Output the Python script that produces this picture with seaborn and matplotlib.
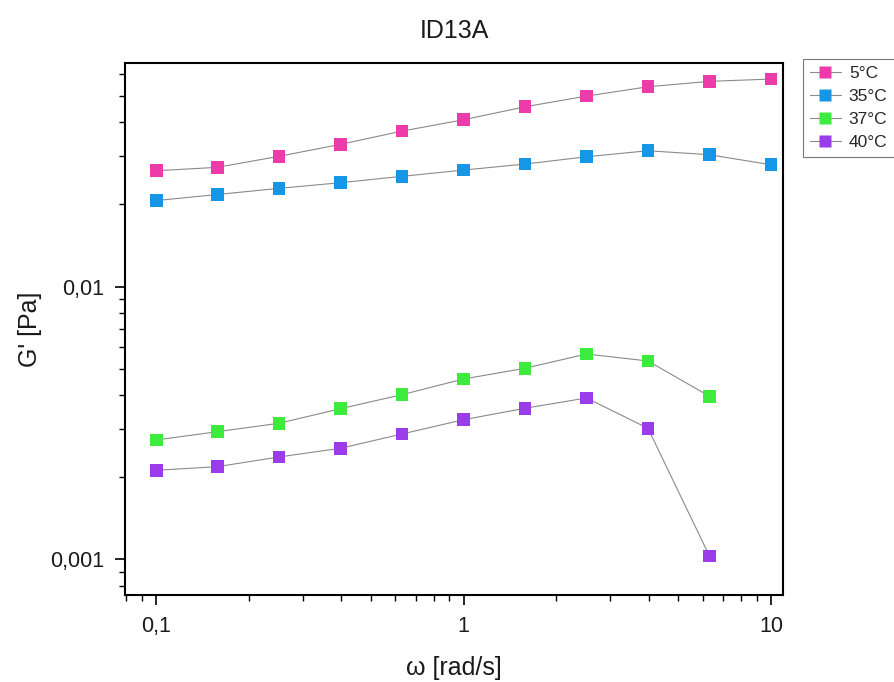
import numpy as np
import pandas as pd
import matplotlib
matplotlib.use("Agg")
import matplotlib.pyplot as plt
from matplotlib.lines import Line2D
from matplotlib.ticker import FuncFormatter, LogLocator, NullFormatter
import seaborn as sns

# ---- data ----
omega = [0.1, 0.158, 0.251, 0.398, 0.631, 1.0, 1.585, 2.512, 3.981, 6.31, 10.0]
g_5C = [0.02656, 0.02733, 0.02999, 0.03318, 0.03711, 0.04083, 0.04556, 0.04986, 0.05393, 0.05645, 0.05756]
g_35C = [0.02065, 0.02173, 0.02289, 0.02401, 0.02533, 0.02671, 0.02810, 0.02988, 0.03144, 0.03040, 0.02794]
g_37C = [0.002740, 0.002938, 0.003154, 0.003568, 0.004016, 0.004583, 0.005017, 0.005658, 0.005336, 0.003962]
g_40C = [0.002122, 0.002187, 0.002374, 0.002555, 0.002882, 0.003251, 0.003580, 0.003905, 0.003024, 0.001030]
labels = ["5°C", "35°C", "37°C", "40°C"]
colors = ["#EE3BAA", "#1696E6", "#3CEB3C", "#9B3CEB"]
title = "ID13A"
xlabel = "ω [rad/s]"
ylabel = "G' [Pa]"

series = [g_5C, g_35C, g_37C, g_40C]
frames = []
for lab, vals in zip(labels, series):
    frames.append(pd.DataFrame({"omega": omega[:len(vals)], "G": vals, "T": lab}))
df = pd.concat(frames, ignore_index=True)

sns.set_style("ticks")
plt.rcParams["font.family"] = ["Liberation Sans", "DejaVu Sans"]

fig = plt.figure(figsize=(8.94, 6.82), dpi=100)
ax = fig.add_axes([0.140, 0.1276, 0.736, 0.780])

for lab in labels:
    sub = df[df["T"] == lab]
    sns.lineplot(data=sub, x="omega", y="G", color="#8a8a8a", lw=0.8, ax=ax,
                 legend=False, sort=False)
sns.scatterplot(data=df, x="omega", y="G", hue="T", palette=dict(zip(labels, colors)),
                marker="s", s=85, edgecolor="none", ax=ax, legend=False, zorder=3)

ax.set_xscale("log")
ax.set_yscale("log")
ax.set_xlim(0.0793, 10.96)
ax.set_ylim(0.000741, 0.0659)

def fmt(v, pos):
    return ("%g" % v).replace(".", ",")

ax.xaxis.set_major_locator(LogLocator(base=10))
ax.yaxis.set_major_locator(LogLocator(base=10))
ax.xaxis.set_major_formatter(FuncFormatter(fmt))
ax.yaxis.set_major_formatter(FuncFormatter(fmt))
ax.xaxis.set_minor_locator(LogLocator(base=10, subs=np.arange(2, 10)))
ax.yaxis.set_minor_locator(LogLocator(base=10, subs=np.arange(2, 10)))
ax.xaxis.set_minor_formatter(NullFormatter())
ax.yaxis.set_minor_formatter(NullFormatter())

ax.tick_params(axis="both", which="major", direction="out", length=7, width=1.2,
               labelsize=15.5, color="black", labelcolor="#1a1a1a", pad=8)
ax.tick_params(axis="both", which="minor", direction="out", length=4, width=1.0, color="black")
for sp in ax.spines.values():
    sp.set_visible(True)
    sp.set_linewidth(1.5)
    sp.set_color("black")

ax.set_xlabel(xlabel, fontsize=18, labelpad=14, color="#1a1a1a")
ax.set_ylabel(ylabel, fontsize=18, labelpad=6, color="#1a1a1a")
fig.text(0.508, 0.955, title, ha="center", va="center", fontsize=18, color="#1a1a1a")

handles = [Line2D([0], [0], color="#8a8a8a", lw=0.8, marker="s", markersize=8,
                  markerfacecolor=c, markeredgecolor="none") for c in colors]
leg = fig.legend(handles, labels, loc="upper left", bbox_to_anchor=(0.898, 0.913),
                 frameon=True, fancybox=False, fontsize=12.5, handlelength=1.8,
                 handletextpad=0.45, borderpad=0.4, labelspacing=0.45,
                 borderaxespad=0.0)
leg.get_frame().set_edgecolor("#555555")
leg.get_frame().set_linewidth(0.8)

fig.savefig("out.png", dpi=100, facecolor="white")
